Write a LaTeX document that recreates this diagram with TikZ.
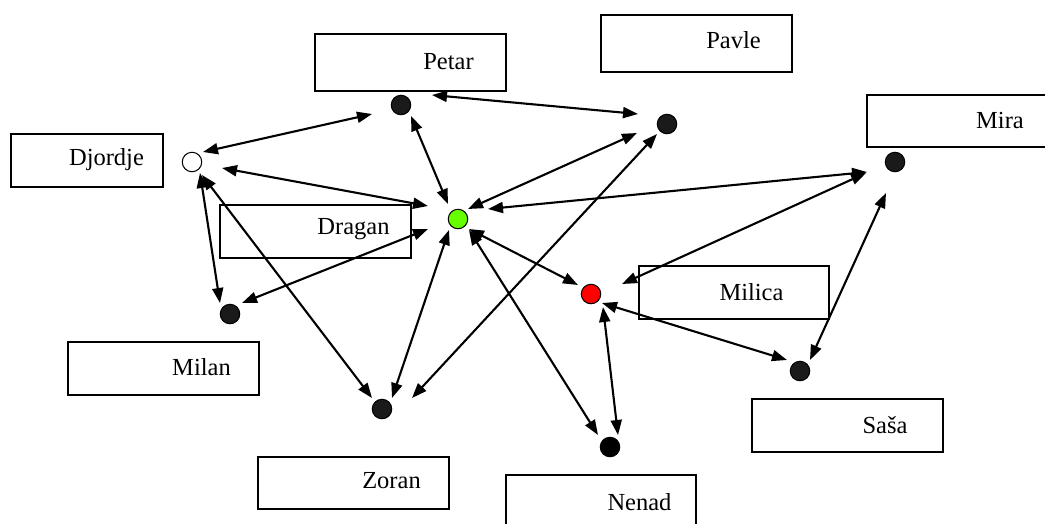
\documentclass[tikz,border=0pt]{standalone}
\usepackage{fontspec}
\setmainfont{Liberation Serif}
\usetikzlibrary{arrows.meta}

\definecolor{dotdark}{HTML}{1A1A1A}
\definecolor{dotgreen}{HTML}{66FF00}
\definecolor{dotred}{HTML}{FF0000}

\tikzset{
  person/.style={circle, draw=black, line width=1pt, minimum size=19.5pt, inner sep=0pt, fill=dotdark},
  namebox/.style={draw=black, line width=1.2pt, minimum width=190pt, minimum height=52pt, inner sep=0pt},
  nametext/.style={font=\fontsize{24.5}{26}\selectfont, inner sep=0pt, anchor=center},
  tip/.tip={Triangle[length=15pt,width=11pt]},
  link/.style={line width=2.1pt, tip-tip}
}

\begin{document}
\begin{tikzpicture}[x=1pt,y=-1pt]
  \useasboundingbox (0,0) rectangle (1045,523);
  \clip (0,0) rectangle (1045,523);

  % label boxes
  \node[namebox, minimum width=191pt, minimum height=57pt] (petarbox)   at (410.5,62.5) {};
  \node[namebox, minimum width=191pt, minimum height=57pt] (pavlebox)   at (696.5,43.5) {};
  \node[namebox, minimum width=191pt, minimum height=52pt] (mirabox)    at (962.5,121) {};
  \node[namebox, minimum width=152pt, minimum height=53pt] (djordjebox) at (87,160.5) {};
  \node[namebox, minimum width=191pt, minimum height=53pt] (draganbox)  at (315.5,231.5) {};
  \node[namebox, minimum width=190pt, minimum height=53pt] (milicabox)  at (734,292.5) {};
  \node[namebox, minimum width=191pt, minimum height=53pt] (milanbox)   at (163.5,368.5) {};
  \node[namebox, minimum width=191pt, minimum height=53pt] (sasabox)    at (847.5,425.5) {};
  \node[namebox, minimum width=191pt, minimum height=52pt] (zoranbox)   at (353.5,483) {};
  \node[namebox, minimum width=190pt, minimum height=61pt] (nenadbox)   at (601,505.5) {};

  % names
  \node[nametext] (petarname)   at (448.5,62)  {Petar};
  \node[nametext] (pavlename)   at (733.5,40)  {Pavle};
  \node[nametext] (miraname)    at (1000,121)  {Mira};
  \node[nametext] (djordjename) at (106.5,160) {Djordje};
  \node[nametext] (draganname)  at (353.5,229) {Dragan};
  \node[nametext] (milicaname)  at (751.5,292) {Milica};
  \node[nametext] (milanname)   at (201.5,367) {Milan};
  \node[nametext] (sasaname)    at (885,425)   {Saša};
  \node[nametext] (zoranname)   at (391.5,481) {Zoran};
  \node[nametext] (nenadname)   at (639.5,502) {Nenad};

  % people
  \node[person] (pe) at (401,105) {};
  \node[person] (pa) at (667,124) {};
  \node[person] (mi) at (895,162) {};
  \node[person, fill=white] (dj) at (192,162) {};
  \node[person, fill=dotgreen] (dr) at (458,219) {};
  \node[person, fill=dotred] (ml) at (591,294) {};
  \node[person] (mn) at (230,314) {};
  \node[person] (sa) at (800,371) {};
  \node[person] (zo) at (382,409) {};
  \node[person, fill=black] (ne) at (610,447) {};

  % relations
  \draw[link] ([shift={(11,-10)}]dj.center) -- ([shift={(-29,9)}]pe.center);
  \draw[link] ([shift={(30,6)}]dj.center)   -- ([shift={(-30,-13)}]dr.center);
  \draw[link] ([shift={(10,11)}]pe.center)  -- ([shift={(-10,-15)}]dr.center);
  \draw[link] ([shift={(31,-10)}]pe.center) -- ([shift={(-29,-10)}]pa.center);
  \draw[link] ([shift={(-30,9)}]pa.center)  -- ([shift={(10,-10)}]dr.center);
  \draw[link] ([shift={(-10,10)}]pa.center) -- ([shift={(30,-11)}]zo.center);
  \draw[link] ([shift={(-28,10)}]mi.center) -- ([shift={(30,-10)}]dr.center);
  \draw[link] ([shift={(-29,11)}]mi.center) -- ([shift={(31,-10)}]ml.center);
  \draw[link] ([shift={(-9,31)}]mi.center)  -- ([shift={(10,-11)}]sa.center);
  \draw[link] ([shift={(-30,10)}]dr.center) -- ([shift={(12,-11)}]mn.center);
  \draw[link] ([shift={(8,11)}]dj.center)   -- ([shift={(-10,-11)}]mn.center);
  \draw[link] ([shift={(10,13)}]dj.center)  -- ([shift={(-10,-11)}]zo.center);
  \draw[link] ([shift={(-9,11)}]dr.center)  -- ([shift={(10,-11)}]zo.center);
  \draw[link] ([shift={(11,10)}]dr.center)  -- ([shift={(-13,-9)}]ml.center);
  \draw[link] ([shift={(11,11)}]dr.center)  -- ([shift={(-12,-12)}]ne.center);
  \draw[link] ([shift={(12,13)}]ml.center)  -- ([shift={(8,-12)}]ne.center);
  \draw[link] ([shift={(11,9)}]ml.center)   -- ([shift={(-13,-11)}]sa.center);
\end{tikzpicture}
\end{document}
